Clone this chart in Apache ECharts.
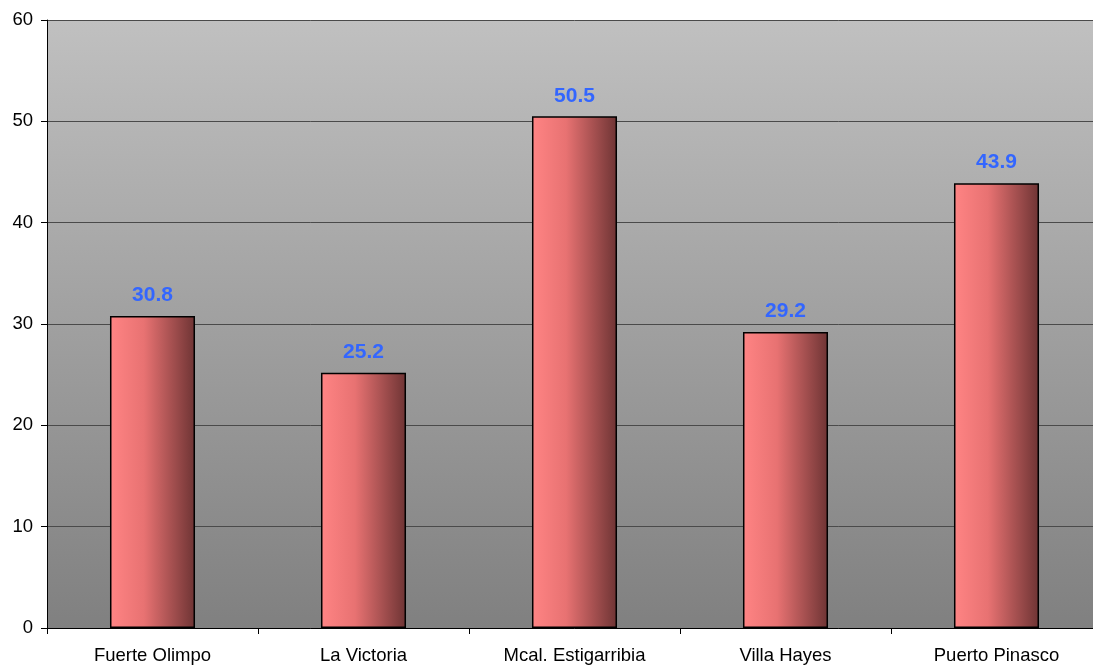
<!DOCTYPE html>
<html><head><meta charset="utf-8">
<script src="https://cdn.jsdelivr.net/npm/echarts@6/dist/echarts.min.js"></script>
<style>html,body{margin:0;padding:0;background:#fff;overflow:hidden;width:1093px;height:666px}#c{width:1102px;height:666px}</style>
</head><body><div id="c"></div>
<script>
var categories = ["Fuerte Olimpo", "La Victoria", "Mcal. Estigarribia", "Villa Hayes", "Puerto Pinasco"];
var values = [30.8, 25.2, 50.5, 29.2, 43.9];
var yTicks = [0, 10, 20, 30, 40, 50, 60];

var chart = echarts.init(document.getElementById('c'));
chart.setOption({
  animation: false,
  grid: {
    left: 47, top: 20, right: 0, bottom: 38, show: true, borderWidth: 0,
    backgroundColor: new echarts.graphic.LinearGradient(0, 0, 0, 1, [
      {offset: 0, color: '#c0c0c0'}, {offset: 1, color: '#808080'}
    ])
  },
  xAxis: {
    type: 'category', data: categories,
    axisLine: {lineStyle: {color: '#000', width: 1}},
    axisTick: {show: true, length: 6, lineStyle: {color: '#000'}, alignWithLabel: false},
    axisLabel: {color: '#000', fontFamily: 'Liberation Sans, Arial, sans-serif', fontSize: 18.5, margin: 18}
  },
  yAxis: {
    type: 'value', min: yTicks[0], max: yTicks[yTicks.length - 1], interval: 10,
    axisLine: {show: true, lineStyle: {color: '#000', width: 1}},
    axisTick: {show: true, length: 6, lineStyle: {color: '#000'}},
    axisLabel: {color: '#000', fontFamily: 'Liberation Sans, Arial, sans-serif', fontSize: 18.5, margin: 14},
    splitLine: {show: true, lineStyle: {color: '#4a4a4a', width: 1}}
  },
  series: [{
    type: 'bar', data: values, barWidth: '40.3%',
    itemStyle: {
      borderColor: '#000', borderWidth: 1.5,
      color: new echarts.graphic.LinearGradient(0, 0, 1, 0, [
        {offset: 0, color: '#ff8484'}, {offset: 0.4, color: '#e87272'}, {offset: 1, color: '#6e3434'}
      ])
    },
    label: {
      show: true, position: 'top', distance: 10, color: '#3366ff',
      fontWeight: 'bold', fontSize: 21, fontFamily: 'Liberation Sans, Arial, sans-serif',
      formatter: function (p) { return p.value.toFixed(1); }
    }
  }]
});
</script></body></html>
